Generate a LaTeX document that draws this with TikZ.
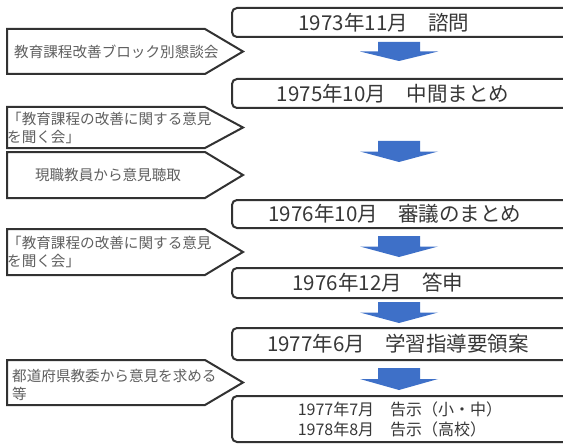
\documentclass[tikz,border=0pt]{standalone}
\usepackage{fontspec}
\setmainfont{Noto Sans CJK JP}
\usetikzlibrary{calc}
\definecolor{lineg}{RGB}{50,50,50}
\definecolor{boxtxt}{RGB}{55,55,55}
\definecolor{pentxt}{RGB}{95,95,95}
\definecolor{arrowblue}{RGB}{62,112,200}
\tikzset{
  boxline/.style={draw=lineg, line width=2pt, fill=white, rounded corners=5pt, inner sep=0pt},
  pentline/.style={draw=lineg, line width=2pt, fill=white, line join=miter},
  boxlabel/.style={text=boxtxt, font=\fontsize{20.5}{24}\selectfont, inner sep=0pt},
  smalllabel/.style={text=boxtxt, font=\fontsize{16}{20}\selectfont, inner sep=0pt, align=left},
  penlabel/.style={text=pentxt, font=\fontsize{14.6}{18}\selectfont, inner sep=0pt, align=left, anchor=west},
}
\newcommand\blockarrow[2]{%
  \fill[arrowblue] let \p1=(#1), \p2=(#2), \n1={(\y1+\y2)/2} in
    (\x1-21pt,\y1) -- (\x1+21pt,\y1) -- (\x1+21pt,\n1) -- (\x1+39pt,\n1) --
    (\x2,\y2) -- (\x1-39pt,\n1) -- (\x1-21pt,\n1) -- cycle;}
\newcommand\pentagon[2]{% top, bottom
  \draw[pentline] (7,#1) -- (205,#1) -- (243,{(#1+#2)/2}) -- (205,#2) -- (7,#2) -- cycle;}
\begin{document}
\begin{tikzpicture}[x=1pt,y=-1pt]
\useasboundingbox (0,0) rectangle (563,444);
\fill[white] (0,0) rectangle (563,444);
\clip (0,0) rectangle (563,444);

% main boxes
\node[boxline, minimum width=348pt, minimum height=29pt] (b1) at (406,22.5) {};
\node[boxline, minimum width=348pt, minimum height=29pt] (b2) at (406,93.5) {};
\node[boxline, minimum width=348pt, minimum height=28pt] (b3) at (406,214) {};
\node[boxline, minimum width=348pt, minimum height=30pt] (b4) at (406,283) {};
\node[boxline, minimum width=348pt, minimum height=32pt] (b5) at (406,344) {};
\node[boxline, minimum width=348pt, minimum height=46pt] (b6) at (406,419) {};

\node[boxlabel] (t1) at (384,22.5) {1973年11月　諮問};
\node[boxlabel] (t2) at (393,93.5) {1975年10月　中間まとめ};
\node[boxlabel] (t3) at (395,214) {1976年10月　審議のまとめ};
\node[boxlabel] (t4) at (378,283) {1976年12月　答申};
\node[boxlabel] (t5) at (398,344) {1977年6月　学習指導要領案};
\node[smalllabel] (t6) at (400,419) {1977年7月　告示（小・中）\\1978年8月　告示（高校）};

% blue arrows between boxes
\coordinate (a1s) at (399,42);  \coordinate (a1e) at (399,61);
\coordinate (a2s) at (399,141); \coordinate (a2e) at (399,162);
\coordinate (a3s) at (399,236); \coordinate (a3e) at (399,257);
\coordinate (a4s) at (399,302); \coordinate (a4e) at (399,323);
\coordinate (a5s) at (399,368); \coordinate (a5e) at (399,390);
\blockarrow{a1s}{a1e}
\blockarrow{a2s}{a2e}
\blockarrow{a3s}{a3e}
\blockarrow{a4s}{a4e}
\blockarrow{a5s}{a5e}

% side pentagons
\pentagon{29}{74}
\pentagon{107}{148}
\pentagon{152}{198}
\pentagon{229}{275}
\pentagon{360}{405}

\node[penlabel] (p1) at (14,51.5) {教育課程改善ブロック別懇談会};
\node[penlabel] (p2) at (7,127.5) {「教育課程の改善に関する意見\\を聞く会」};
\node[penlabel, anchor=center] (p3) at (108,175) {現職教員から意見聴取};
\node[penlabel] (p4) at (7,251.5) {「教育課程の改善に関する意見\\を聞く会」};
\node[penlabel] (p5) at (12,384.5) {都道府県教委から意見を求める\\等};
\end{tikzpicture}
\end{document}
